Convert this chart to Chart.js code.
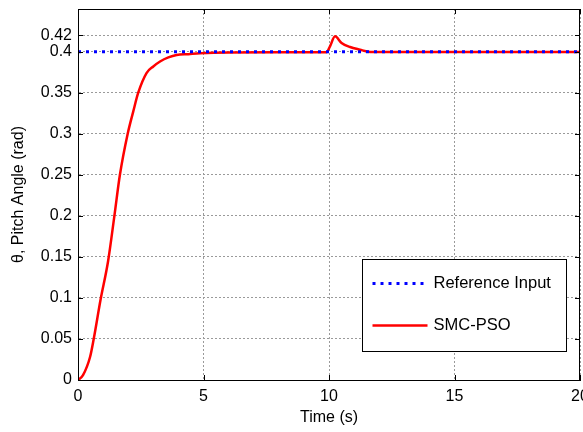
<!DOCTYPE html>
<html>
<head>
<meta charset="utf-8">
<script src="https://cdn.jsdelivr.net/npm/chart.js@4.4.0/dist/chart.umd.min.js"></script>
<style>
    html, body { margin: 0; padding: 0; background: #fff; }
</style>
</head>
<body>
<canvas id="pitchGraph" width="583" height="432"></canvas>
<script>
// Response of the pitch angle
const timeValues = [0, 0.2, 0.48, 0.62, 0.9, 1.2, 1.45, 1.67, 1.98, 2.2, 2.4, 2.73, 3.0, 3.27, 3.6, 3.93, 4.4, 4.86,
    6, 8, 9.9, 10.04, 10.24, 10.5, 10.84, 11.24, 11.57, 12, 14, 17, 20];
const pitchValues = [0, 0.006, 0.028, 0.049, 0.098, 0.145, 0.2, 0.25, 0.3, 0.327, 0.35, 0.374, 0.382, 0.388, 0.393, 0.396, 0.397, 0.398,
    0.399, 0.3992, 0.3992, 0.4065, 0.4187, 0.4106, 0.4057, 0.4024, 0.4, 0.3995, 0.3995, 0.3995, 0.3995];

// Reference input
const refTime = [0, 20];
const refValues = [0.4, 0.4];

// Axis ticks
const xTickValues = [0, 5, 10, 15, 20];
const yTickValues = [0, 0.05, 0.1, 0.15, 0.2, 0.25, 0.3, 0.35, 0.4, 0.42];

const labelFont = { family: "'Liberation Sans', Arial, sans-serif", size: 16 };
const legendFont = { family: "'Liberation Sans', Arial, sans-serif", size: 16.5 };

function toPoints(xs, ys) {
    return xs.map((x, i) => ({ x: x, y: ys[i] }));
}

// Box around the axes, inner tick marks and the legend (MATLAB style)
const matlabFrame = {
    id: 'matlabFrame',
    afterDraw(chart) {
        const c = chart.ctx;
        const a = chart.chartArea;
        const xs = chart.scales.x;
        const ys = chart.scales.y;
        c.save();
        c.strokeStyle = '#000';
        c.lineWidth = 1;
        c.setLineDash([]);
        c.beginPath();
        xTickValues.forEach(v => {
            const px = Math.round(xs.getPixelForValue(v)) + 0.5;
            c.moveTo(px, a.bottom); c.lineTo(px, a.bottom - 5);
            c.moveTo(px, a.top); c.lineTo(px, a.top + 5);
        });
        yTickValues.forEach(v => {
            const py = Math.round(ys.getPixelForValue(v)) + 0.5;
            c.moveTo(a.left, py); c.lineTo(a.left + 5, py);
            c.moveTo(a.right, py); c.lineTo(a.right - 5, py);
        });
        c.stroke();
        c.strokeRect(Math.round(a.left) + 0.5, Math.round(a.top) + 0.5, Math.round(a.right - a.left) - 1, Math.round(a.bottom - a.top));

        // Legend
        const w = 204, h = 92;
        const lx = Math.round(a.right - 14 - w) + 0.5;
        const ly = Math.round(a.bottom - 29 - h) + 0.5;
        c.fillStyle = '#fff';
        c.fillRect(lx, ly, w, h);
        c.strokeRect(lx, ly, w, h);
        chart.data.datasets.forEach((ds, i) => {
            const yy = ly + 24 + i * 42;
            c.beginPath();
            c.strokeStyle = ds.borderColor;
            c.lineWidth = ds.borderWidth;
            c.setLineDash(ds.borderDash || []);
            c.moveTo(lx + 10, yy);
            c.lineTo(lx + 65, yy);
            c.stroke();
            c.setLineDash([]);
            c.fillStyle = '#000';
            c.font = `${legendFont.size}px ${legendFont.family}`;
            c.textBaseline = 'middle';
            c.fillText(ds.label, lx + 71, yy);
        });
        c.restore();
    }
};

const config = {
    type: 'line',
    data: {
        datasets: [{
            label: 'Reference Input',
            data: toPoints(refTime, refValues),
            borderColor: '#0000ff',
            borderWidth: 3,
            borderDash: [3, 5],
            pointRadius: 0,
            order: 1
        }, {
            label: 'SMC-PSO',
            data: toPoints(timeValues, pitchValues),
            borderColor: '#ff0000',
            borderWidth: 2.5,
            pointRadius: 0,
            cubicInterpolationMode: 'monotone',
            order: 2
        }]
    },
    options: {
        responsive: false,
        animation: false,
        layout: { padding: { top: 9, right: 3, left: 0, bottom: 0 } },
        plugins: {
            legend: { display: false },
            tooltip: { enabled: false }
        },
        scales: {
            x: {
                type: 'linear',
                min: 0,
                max: 20,
                afterBuildTicks: s => { s.ticks = xTickValues.map(v => ({ value: v })); },
                afterFit: s => { s.height = 52; s.paddingLeft = 0; s.paddingRight = 0; },
                ticks: {
                    padding: 7,
                    color: '#000',
                    font: labelFont,
                    maxRotation: 0,
                    callback: v => String(v)
                },
                grid: { color: '#9a9a9a', drawTicks: false },
                border: { color: '#000', dash: [2, 2] },
                title: { display: true, text: 'Time (s)', color: '#000', font: labelFont, padding: { top: 0, bottom: 5 } }
            },
            y: {
                min: 0,
                max: 0.452,
                afterBuildTicks: s => { s.ticks = yTickValues.map(v => ({ value: v })); },
                afterFit: s => { s.width = 78; s.paddingTop = 0; s.paddingBottom = 0; },
                ticks: {
                    padding: 6,
                    color: '#000',
                    font: labelFont,
                    callback: v => String(v)
                },
                grid: { color: '#9a9a9a', drawTicks: false },
                border: { color: '#000', dash: [2, 2] },
                title: { display: true, text: 'θ, Pitch Angle (rad)', color: '#000', font: labelFont, padding: { top: 9, bottom: 0 } }
            }
        }
    },
    plugins: [matlabFrame]
};

const pitchChart = new Chart(document.getElementById('pitchGraph').getContext('2d'), config);
</script>
</body>
</html>
